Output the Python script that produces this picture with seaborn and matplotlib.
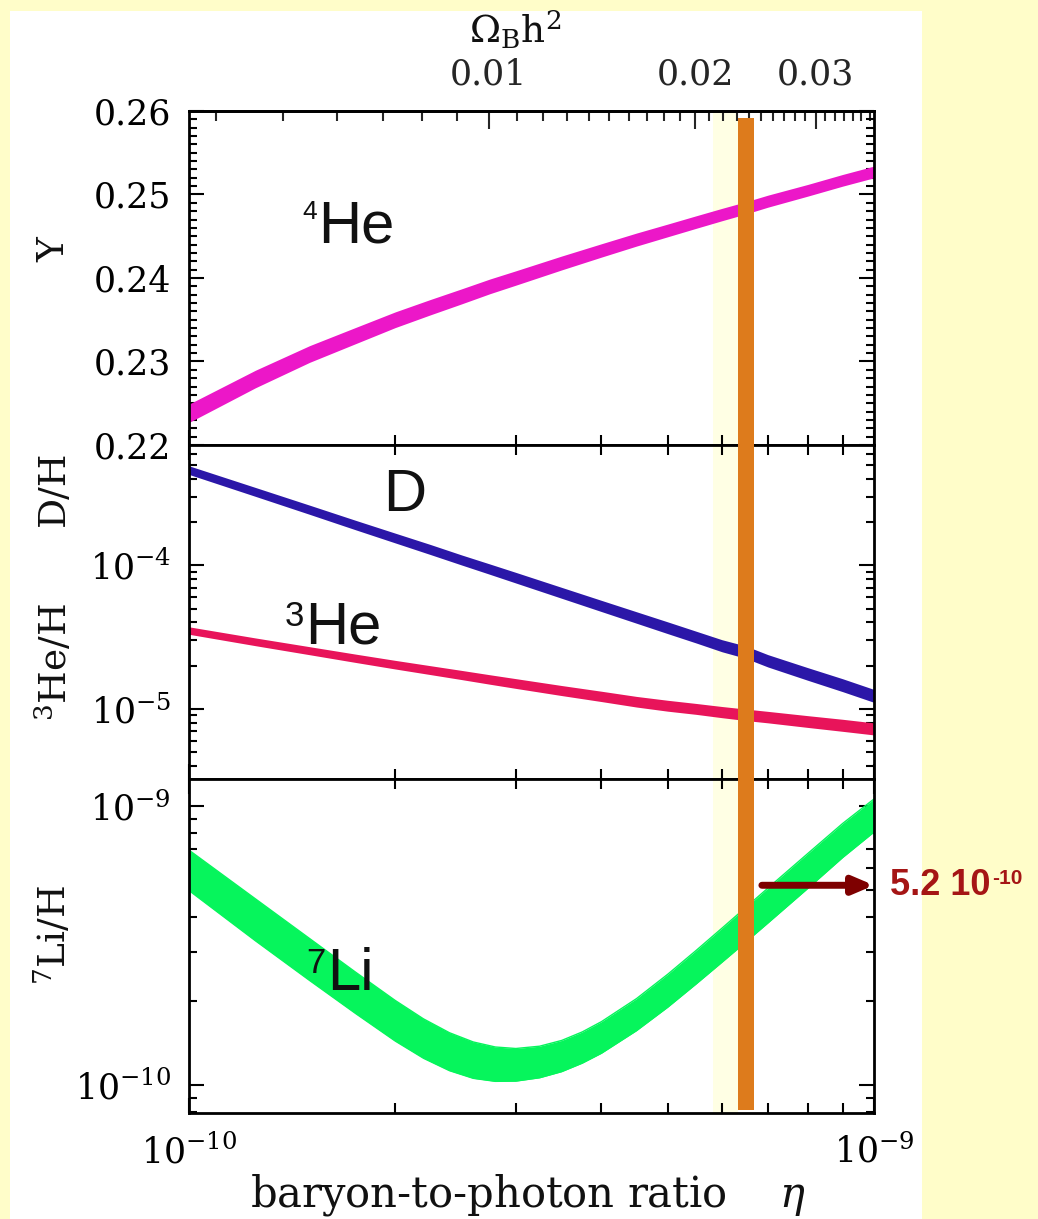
import numpy as np
import pandas as pd
import matplotlib
matplotlib.use("Agg")
import matplotlib.pyplot as plt
import matplotlib.ticker as mticker
import matplotlib.transforms as mtransforms
from matplotlib.patches import Rectangle
import seaborn as sns

# ---------------------------------------------------------------- data
# baryon-to-photon ratio, in units of 1e-10
eta10 = [1.0, 1.25, 1.5, 1.75, 2.0, 2.25, 2.5, 2.75, 3.0, 3.5,
         4.0, 4.5, 5.0, 5.5, 6.0, 6.5, 7.0, 8.0, 9.0, 10.0]

# 4He mass fraction Y_p and half-width of the band
yp = [0.2238, 0.2279, 0.2309, 0.2331, 0.2350, 0.2365, 0.2378, 0.2390, 0.2400, 0.2418,
      0.2433, 0.2446, 0.2457, 0.2467, 0.2476, 0.2484, 0.2492, 0.2505, 0.2517, 0.2527]
yp_err = [0.0011, 0.00105, 0.0010, 0.00097, 0.00094, 0.00092, 0.0009, 0.00088, 0.00086, 0.00083,
          0.0008, 0.00078, 0.00076, 0.00075, 0.00074, 0.00073, 0.00072, 0.0007, 0.0007, 0.0007]

# D/H and its band half-width (dex)
dh = [4.61e-4, 3.25e-4, 2.44e-4, 1.91e-4, 1.55e-4, 1.29e-4, 1.09e-4, 9.40e-5, 8.20e-5, 6.43e-5,
      5.21e-5, 4.33e-5, 3.67e-5, 3.16e-5, 2.75e-5, 2.48e-5, 2.16e-5, 1.75e-5, 1.46e-5, 1.23e-5]
dh_dex = [0.030, 0.031, 0.032, 0.033, 0.034, 0.035, 0.035, 0.036, 0.037, 0.038,
          0.039, 0.040, 0.041, 0.041, 0.042, 0.043, 0.043, 0.044, 0.045, 0.045]

# 3He/H and its band half-width (dex)
he3h = [3.51e-5, 2.93e-5, 2.54e-5, 2.25e-5, 2.03e-5, 1.86e-5, 1.72e-5, 1.60e-5, 1.50e-5, 1.34e-5,
        1.22e-5, 1.12e-5, 1.05e-5, 9.98e-6, 9.48e-6, 9.08e-6, 8.75e-6, 8.15e-6, 7.67e-6, 7.24e-6]
he3_dex = [0.026, 0.027, 0.028, 0.029, 0.030, 0.031, 0.032, 0.033, 0.034, 0.035,
           0.036, 0.037, 0.038, 0.038, 0.039, 0.040, 0.040, 0.041, 0.042, 0.042]

# 7Li/H band (lower and upper edges, units of 1e-10) on a finer eta grid
eta10_li = [1.0, 1.25, 1.5, 1.75, 2.0, 2.2, 2.4, 2.6, 2.8, 3.0, 3.25, 3.5,
            3.75, 4.0, 4.5, 5.0, 5.5, 6.0, 6.5, 7.0, 8.0, 9.0, 10.0]
li_lo = [4.98, 3.29, 2.37, 1.806, 1.438, 1.247, 1.126, 1.057, 1.031, 1.033, 1.062, 1.117,
         1.198, 1.300, 1.566, 1.902, 2.304, 2.757, 3.257, 3.809, 5.063, 6.54, 8.07]
li_hi = [6.95, 4.65, 3.35, 2.54, 2.01, 1.726, 1.540, 1.427, 1.369, 1.352, 1.378, 1.445,
         1.550, 1.687, 2.040, 2.496, 3.037, 3.651, 4.334, 5.08, 6.75, 8.66, 10.6]

# CMB baryon density bar and the quoted lithium value
eta_obs_lo, eta_obs_hi = 6.33e-10, 6.68e-10
eta_pale_lo = 5.82e-10
li_quoted = 5.2e-10
eta_arrow_start = 6.86e-10

# axis ranges and decade ticks
eta_range = (1e-10, 1e-9)
yp_range = (0.22, 0.26)
mid_range = (3.24e-6, 6.9e-4)
li_range = (7.94e-11, 1.25e-9)
mid_decades = [1e-5, 1e-4]
li_decades = [1e-10, 1e-9]

# conversion eta_10 = 273.9 * Omega_B h^2
ETA10_PER_OMEGA = 273.9
omega_major = [0.01, 0.02, 0.03]
omega_minor = [i / 1000 for i in range(4, 37) if i % 10]

# ---------------------------------------------------------------- style
BG = "#FFFDC9"
MAGENTA = "#EC17C8"
BLUE = "#2B17A8"
CRIMSON = "#E8145A"
GREEN = "#06F55C"
ORANGE = "#DD7B1C"
ARROW_RED = "#7E0000"
TXT_RED = "#A51515"
PALE = "#FFFFE4"

sns.set_style("ticks")
plt.rcParams["font.family"] = ["DejaVu Serif"]
plt.rcParams["mathtext.fontset"] = "custom"
plt.rcParams["mathtext.rm"] = "DejaVu Serif"
plt.rcParams["mathtext.it"] = "DejaVu Serif:italic"
plt.rcParams["mathtext.bf"] = "DejaVu Serif:bold"
plt.rcParams["axes.edgecolor"] = "black"
plt.rcParams["text.color"] = "#111111"

df = pd.DataFrame({
    "eta": np.array(eta10) * 1e-10,
    "yp": yp, "yp_err": yp_err,
    "dh": dh, "dh_dex": dh_dex,
    "he3h": he3h, "he3_dex": he3_dex,
})
df_li = pd.DataFrame({
    "eta": np.array(eta10_li) * 1e-10,
    "li_lo": np.array(li_lo) * 1e-10,
    "li_hi": np.array(li_hi) * 1e-10,
})


def minor_log_ticks(lo, hi):
    """Positions 2..9 x 10^k that fall inside [lo, hi]."""
    out = []
    for k in range(int(np.floor(np.log10(lo))), int(np.ceil(np.log10(hi))) + 1):
        for m in range(2, 10):
            v = m * 10.0 ** k
            if lo <= v <= hi:
                out.append(v)
    return out


W, H = 1038, 1219
fig = plt.figure(figsize=(W / 100, H / 100), dpi=100, facecolor=BG)
fig.add_artist(Rectangle((10 / W, 0), (922 - 10) / W, (H - 11) / H,
                         transform=fig.transFigure, facecolor="white",
                         edgecolor="none", zorder=-5))

left, width, height = 189 / W, 685 / W, 334 / H
ax1 = fig.add_axes([left, 1 - 445 / H, width, height])
ax2 = fig.add_axes([left, 1 - 779 / H, width, height])
ax3 = fig.add_axes([left, 1 - 1113 / H, width, height])
axes = [ax1, ax2, ax3]

TICK_FS = 25
LABEL_FS = 27

for ax in axes:
    ax.set_facecolor("white")
    ax.set_xscale("log")
    ax.axvspan(eta_pale_lo, eta_obs_lo, color=PALE, lw=0, zorder=0)

# ---- 4He panel
ax1.fill_between(df["eta"], df["yp"] - df["yp_err"], df["yp"] + df["yp_err"],
                 color=MAGENTA, lw=0, zorder=2)
sns.lineplot(data=df, x="eta", y="yp", ax=ax1, color=MAGENTA, lw=1.5, zorder=2)
ax1.set_ylim(*yp_range)

# ---- D and 3He panel
for col, dex, colr in (("dh", "dh_dex", BLUE), ("he3h", "he3_dex", CRIMSON)):
    fac = 10 ** df[dex]
    ax2.fill_between(df["eta"], df[col] / fac, df[col] * fac, color=colr, lw=0, zorder=2)
    sns.lineplot(data=df, x="eta", y=col, ax=ax2, color=colr, lw=1.5, zorder=2)
ax2.set_yscale("log")
ax2.set_ylim(*mid_range)

# ---- 7Li panel
ax3.fill_between(df_li["eta"], df_li["li_lo"], df_li["li_hi"], color=GREEN, lw=0, zorder=2)
sns.lineplot(data=df_li, x="eta", y="li_lo", ax=ax3, color=GREEN, lw=1, zorder=2)
sns.lineplot(data=df_li, x="eta", y="li_hi", ax=ax3, color=GREEN, lw=1, zorder=2)
ax3.set_yscale("log")
ax3.set_ylim(*li_range)

# ---- axes, ticks
sci = mticker.LogFormatterSciNotation()
for ax in axes:
    ax.set_xlim(*eta_range)
    ax.set_xlabel("")
    ax.set_ylabel("")
    for s in ax.spines.values():
        s.set_linewidth(2)
        s.set_zorder(3)
    ax.xaxis.set_major_locator(mticker.FixedLocator(list(eta_range)))
    ax.xaxis.set_minor_locator(mticker.FixedLocator(minor_log_ticks(*eta_range)))
    ax.xaxis.set_major_formatter(mticker.LogFormatterSciNotation())
    ax.xaxis.set_minor_formatter(mticker.NullFormatter())
    ax.tick_params(which="both", direction="in", top=True, right=True,
                   width=1.5, labelsize=TICK_FS, colors="black")
    ax.tick_params(axis="y", which="major", length=11, pad=13)
    ax.tick_params(axis="y", which="minor", length=6)
    ax.tick_params(axis="x", which="major", length=11)
    ax.tick_params(axis="x", which="minor", length=7)

for ax, decades, rng in ((ax2, mid_decades, mid_range), (ax3, li_decades, li_range)):
    ax.yaxis.set_major_locator(mticker.FixedLocator(decades))
    ax.yaxis.set_minor_locator(mticker.FixedLocator(
        [v for v in minor_log_ticks(*rng) if v not in decades]))
    ax.yaxis.set_major_formatter(mticker.LogFormatterSciNotation())
    ax.yaxis.set_minor_formatter(mticker.NullFormatter())

ax1.yaxis.set_major_locator(mticker.MultipleLocator(0.01))
ax1.yaxis.set_minor_locator(mticker.MultipleLocator(0.001))
ax1.yaxis.set_major_formatter(mticker.FormatStrFormatter("%.2f"))

ax1.tick_params(axis="x", which="both", top=False, labelbottom=False)
ax2.tick_params(axis="x", which="both", labelbottom=False)
ax3.tick_params(axis="x", which="major", pad=15)

# ---- Omega_B h^2 axis on top
def eta_to_omega(x):
    return np.asarray(x, dtype=float) * 1e10 / ETA10_PER_OMEGA


def omega_to_eta(w):
    return np.asarray(w, dtype=float) * ETA10_PER_OMEGA * 1e-10


sec = ax1.secondary_xaxis("top", functions=(eta_to_omega, omega_to_eta))
sec.xaxis.set_major_locator(mticker.FixedLocator(omega_major))
sec.xaxis.set_minor_locator(mticker.FixedLocator(omega_minor))
sec.xaxis.set_major_formatter(mticker.FormatStrFormatter("%.2f"))
sec.xaxis.set_minor_formatter(mticker.NullFormatter())
sec.tick_params(which="both", direction="in", width=1.5, labelsize=TICK_FS, pad=14)
sec.tick_params(which="major", length=13)
sec.tick_params(which="minor", length=7)
sec.spines["top"].set_linewidth(2)

# ---- axis titles
ax1.text((515 - 189) / 685, (445 - 30) / 334, r"$\mathrm{\Omega_B h^2}$",
         transform=ax1.transAxes, ha="center", va="center", fontsize=27)
ax1.text(-0.197, (445 - 250) / 334, "Y", transform=ax1.transAxes,
         rotation=90, ha="center", va="center", fontsize=LABEL_FS)
ax2.text(-0.197, (779 - 488) / 334, "D/H", transform=ax2.transAxes,
         rotation=90, ha="center", va="center", fontsize=LABEL_FS)
ax2.text(-0.197, (779 - 662) / 334, r"$^{3}$He/H", transform=ax2.transAxes,
         rotation=90, ha="center", va="center", fontsize=LABEL_FS)
ax3.text(-0.197, (1113 - 935) / 334, r"$^{7}$Li/H", transform=ax3.transAxes,
         rotation=90, ha="center", va="center", fontsize=LABEL_FS)
ax3.text((528 - 189) / 685, (1113 - 1206) / 334, r"baryon-to-photon ratio    $\eta$",
         transform=ax3.transAxes, ha="center", va="baseline", fontsize=30)

# ---- isotope names inside the panels
SANS = "Liberation Sans"


def isotope(ax, x, y, mass, symbol, sup_fs):
    t = ax.text(x, y, symbol, transform=ax.transAxes, fontsize=43,
                family=SANS, ha="left", va="top", zorder=6)
    if mass:
        ax.annotate(mass, xy=(0, 1), xycoords=t, xytext=(-1, 0),
                    textcoords="offset points", ha="right", va="top",
                    fontsize=sup_fs, family=SANS, zorder=6)


isotope(ax1, (318 - 189) / 685, (445 - 200) / 334, "4", "He", 19)
isotope(ax2, (383 - 189) / 685, (779 - 468) / 334, "", "D", 24)
isotope(ax2, (305 - 189) / 685, (779 - 600) / 334, "3", "He", 25)
isotope(ax3, (327 - 189) / 685, (1113 - 947) / 334, "7", "Li", 25)

# ---- observed baryon density bar across all panels
bar_tr = mtransforms.blended_transform_factory(ax1.transData, fig.transFigure)
fig.add_artist(Rectangle((eta_obs_lo, 1 - 1110 / H), eta_obs_hi - eta_obs_lo,
                         (1110 - 118) / H, transform=bar_tr,
                         facecolor=ORANGE, edgecolor="none", zorder=10))

# ---- lithium value pointer
ax3.annotate("", xy=(eta_range[1], li_quoted), xytext=(eta_arrow_start, li_quoted),
             arrowprops=dict(arrowstyle="-|>,head_length=0.75,head_width=0.32",
                             color=ARROW_RED, lw=5, mutation_scale=16,
                             shrinkA=0, shrinkB=0),
             annotation_clip=False, zorder=11)
lab_tr = mtransforms.blended_transform_factory(ax3.transAxes, ax3.transData)
val = ax3.text((890 - 189) / 685, li_quoted, "5.2 10", transform=lab_tr,
               fontsize=26, fontweight="bold", family=SANS, color=TXT_RED,
               ha="left", va="center", zorder=11)
ax3.annotate("-10", xy=(1, 1), xycoords=val, xytext=(1, -1),
             textcoords="offset points", ha="left", va="top", fontsize=15,
             fontweight="bold", family=SANS, color=TXT_RED, zorder=11)

fig.savefig("out.png", dpi=100, facecolor=BG)
